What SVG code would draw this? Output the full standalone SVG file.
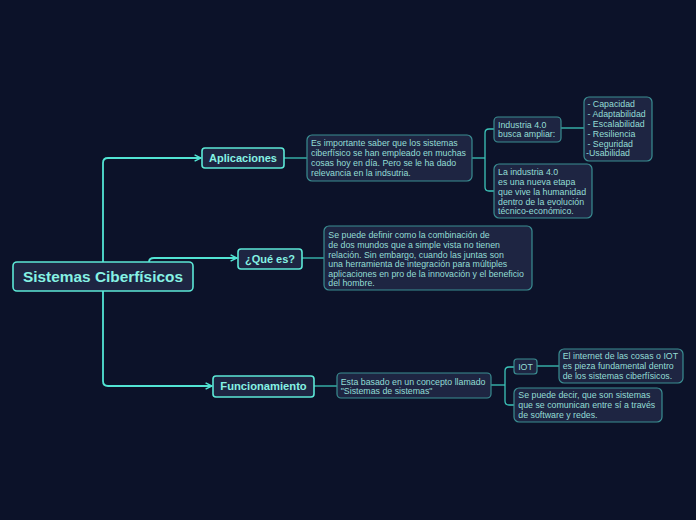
<svg xmlns="http://www.w3.org/2000/svg" width="696" height="520" viewBox="0 0 696 520">
<defs>
<style>
.main{fill:#1e2542;stroke:#5ce8d6;stroke-width:1.6}
.sub{fill:#1e2542;stroke:#3a8e92;stroke-width:1.2}
.tmain{font-family:"Liberation Sans",Arial,sans-serif;font-weight:bold;fill:#86f2e4;text-anchor:middle}
.tsub{font-family:"Liberation Sans",Arial,sans-serif;font-size:8.8px;fill:#94ddd5}
.cm{fill:none;stroke:#52e4d3;stroke-width:1.8}
.cs{fill:none;stroke:#3cc4b9;stroke-width:1.3}
</style>
<marker id="arr" viewBox="0 0 10 10" refX="9" refY="5" markerWidth="8" markerHeight="8" markerUnits="userSpaceOnUse" orient="auto">
<path d="M1,1 L9,5 L1,9" fill="none" stroke="#52e4d3" stroke-width="1.8"/>
</marker>
</defs>
<rect width="696" height="520" fill="#0c1229"/>
<g id="connectors">
<path class="cm" d="M103,262 L103,163 Q103,158 108,158 L201,158" marker-end="url(#arr)"/>
<path class="cm" d="M149,262 Q149,258 154,258 L237,258" marker-end="url(#arr)"/>
<path class="cm" d="M103,291 L103,381 Q103,386 108,386 L212,386" marker-end="url(#arr)"/>
<path class="cs" d="M284,158 L307,158"/>
<path class="cs" d="M302,258 L324,258"/>
<path class="cs" d="M314,386 L337,386"/>
<path class="cs" d="M472,158 L485,158"/>
<path class="cs" d="M494,129 L489,129 Q485,129 485,133 L485,187 Q485,191 489,191 L494,191"/>
<path class="cs" d="M561,128 L584,128"/>
<path class="cs" d="M491,385 L505,385"/>
<path class="cs" d="M514,367 L509,367 Q505,367 505,371 L505,401 Q505,405 509,405 L514,405"/>
<path class="cs" d="M537,366 L559,366"/>
</g>
<g id="root">
<rect class="main" x="13" y="262" width="180" height="29" rx="4"/>
<text class="tmain" x="103" y="282" font-size="15.4">Sistemas Ciberfísicos</text>
</g>
<g id="aplicaciones">
<rect class="main" x="202" y="148" width="82" height="20" rx="3"/>
<text class="tmain" x="243" y="162" font-size="11">Aplicaciones</text>
</g>
<g id="quees">
<rect class="main" x="238" y="249" width="64" height="20" rx="3"/>
<text class="tmain" x="270" y="263" font-size="11">¿Qué es?</text>
</g>
<g id="funcionamiento">
<rect class="main" x="213" y="376" width="101" height="21" rx="3"/>
<text class="tmain" x="263.5" y="390" font-size="11.2">Funcionamiento</text>
</g>
<g id="aplic-desc">
<rect class="sub" x="307" y="135" width="165" height="46" rx="5"/>
<text class="tsub"><tspan x="311" y="146.3">Es importante saber que los sistemas</tspan><tspan x="311" y="156.3">ciberfísico se han empleado en muchas</tspan><tspan x="311" y="166.3">cosas hoy en día. Pero se le ha dado</tspan><tspan x="311" y="176.3">relevancia en la indsutria.</tspan></text>
</g>
<g id="industria-busca">
<rect class="sub" x="494" y="117" width="67" height="25" rx="4"/>
<text class="tsub"><tspan x="498" y="128.3">Industria 4.0</tspan><tspan x="498" y="137.3">busca ampliar:</tspan></text>
</g>
<g id="lista">
<rect class="sub" x="584" y="97" width="68" height="64" rx="5"/>
<text class="tsub"><tspan x="587.5" y="107.3">- Capacidad</tspan><tspan x="587.5" y="117.3">- Adaptabilidad</tspan><tspan x="587.5" y="127">- Escalabilidad</tspan><tspan x="587.5" y="137">- Resiliencia</tspan><tspan x="587.5" y="147">- Seguridad</tspan><tspan x="586" y="156">-Usabilidad</tspan></text>
</g>
<g id="industria-etapa">
<rect class="sub" x="494" y="164" width="98" height="54" rx="5"/>
<text class="tsub"><tspan x="498" y="175">La industria 4.0</tspan><tspan x="498" y="185">es una nueva etapa</tspan><tspan x="498" y="195">que vive la humanidad</tspan><tspan x="498" y="205">dentro de la evolución</tspan><tspan x="498" y="214">técnico-económico.</tspan></text>
</g>
<g id="quees-desc">
<rect class="sub" x="324" y="226" width="208" height="64" rx="5"/>
<text class="tsub"><tspan x="328.3" y="238.3">Se puede definir como la combinación de</tspan><tspan x="328.3" y="248.3">de dos mundos que a simple vista no tienen</tspan><tspan x="328.3" y="258">relación. Sin embargo, cuando las juntas son</tspan><tspan x="328.3" y="267.3">una herramienta de integración para múltiples</tspan><tspan x="328.3" y="277">aplicaciones en pro de la innovación y el beneficio</tspan><tspan x="328.3" y="286">del hombre.</tspan></text>
</g>
<g id="func-desc">
<rect class="sub" x="337" y="373" width="154" height="25" rx="4"/>
<text class="tsub"><tspan x="340.7" y="385">Esta basado en un concepto llamado</tspan><tspan x="340.7" y="394.3">"Sistemas de sistemas"</tspan></text>
</g>
<g id="iot">
<rect class="sub" x="514" y="359" width="23" height="15" rx="3"/>
<text class="tsub" x="525.5" y="370" text-anchor="middle">IOT</text>
</g>
<g id="iot-desc">
<rect class="sub" x="559" y="349" width="124" height="34" rx="5"/>
<text class="tsub"><tspan x="562.7" y="359.3">El internet de las cosas o IOT</tspan><tspan x="562.7" y="369.3">es pieza fundamental dentro</tspan><tspan x="562.7" y="379">de los sistemas ciberfísicos.</tspan></text>
</g>
<g id="comunican">
<rect class="sub" x="514" y="388" width="148" height="34" rx="5"/>
<text class="tsub"><tspan x="518.3" y="397.6">Se puede decir, que son sistemas</tspan><tspan x="518.3" y="407.6">que se comunican entre sí a través</tspan><tspan x="518.3" y="418.3">de software y redes.</tspan></text>
</g>
</svg>
